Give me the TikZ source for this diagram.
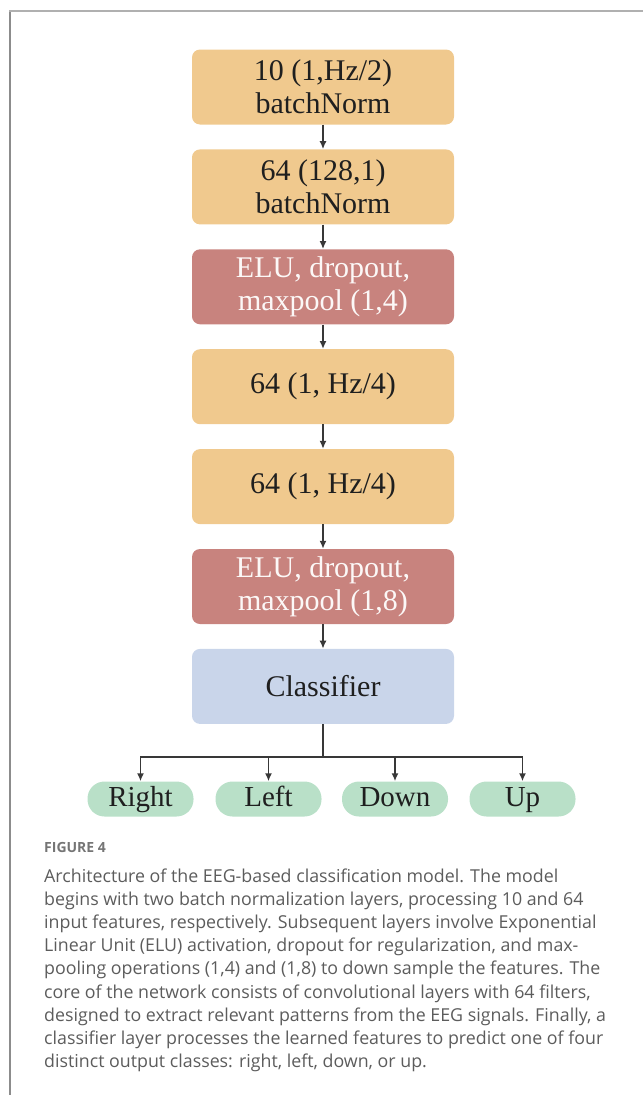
\documentclass[tikz,border=0pt]{standalone}
\usepackage{fontspec}
\setmainfont{Liberation Serif}
\newfontfamily\capfont{Open Sans}
\usetikzlibrary{positioning, arrows.meta}

\definecolor{layerorange}{HTML}{F0C98E}
\definecolor{layerred}{HTML}{C8837E}
\definecolor{layerblue}{HTML}{C9D5EA}
\definecolor{classgreen}{HTML}{B9E0C8}
\definecolor{captext}{HTML}{5C5C5C}
\definecolor{frametop}{HTML}{B0B0B0}
\definecolor{frameleft}{HTML}{8C8C8C}

\tikzset{
    layer/.style={rounded corners=8pt, minimum width=262pt, minimum height=75pt, inner sep=0pt, align=center, text=black!88, font=\fontsize{30}{33}\selectfont},
    normlayer/.style={layer, fill=layerorange},
    poollayer/.style={layer, fill=layerred, text=white!94!layerred},
    clflayer/.style={layer, fill=layerblue},
    outclass/.style={rounded corners=17pt, minimum width=106pt, minimum height=35pt, inner sep=0pt, text height=20pt, text depth=6pt, fill=classgreen, text=black!88, font=\fontsize{29}{30}\selectfont},
    flow/.style={draw=black!78, line width=1.7pt, -{Latex[length=8pt, width=7pt]}},
    capline/.style={anchor=base west, inner sep=0pt, text=captext, font=\capfont\fontsize{17.8}{20}\selectfont},
}

\begin{document}
\begin{tikzpicture}[x=1pt, y=-1pt]
        \useasboundingbox (0,0) rectangle (643,1095);
        \draw[frameleft, line width=1.5pt] (10,1095) -- (10,11);
        \draw[frametop, line width=1.5pt] (9.25,11) -- (643,11);

        \node[normlayer] (bn1) at (323,87) {10 (1,Hz/2)\\batchNorm};
        \node[normlayer, below=24.5pt of bn1] (bn2) {64 (128,1)\\batchNorm};
        \node[poollayer, below=24.5pt of bn2] (pool1) {ELU, dropout,\\maxpool (1,4)};
        \node[normlayer, below=24.5pt of pool1] (conv1) {64 (1, Hz/4)};
        \node[normlayer, below=24.5pt of conv1] (conv2) {64 (1, Hz/4)};
        \node[poollayer, below=24.5pt of conv2] (pool2) {ELU, dropout,\\maxpool (1,8)};
        \node[clflayer, below=24.5pt of pool2] (clf) {Classifier};

        \node[outclass] (right) at (140.5,799) {Right};
        \node[outclass] (left) at (268.5,799) {Left};
        \node[outclass] (down) at (395,799) {Down};
        \node[outclass] (up) at (522.5,799) {Up};

        \draw[flow] (bn1) -- (bn2);
        \draw[flow] (bn2) -- (pool1);
        \draw[flow] (pool1) -- (conv1);
        \draw[flow] (conv1) -- (conv2);
        \draw[flow] (conv2) -- (pool2);
        \draw[flow] (pool2) -- (clf);

        \coordinate (split) at (323,757);
        \draw[draw=black!78, line width=1.7pt] (clf.south) -- (split);
        \draw[flow] (split) -| (right.north);
        \draw[flow] (split) -| (left.north);
        \draw[flow] (split) -| (down.north);
        \draw[flow] (split) -| (up.north);

        \node[anchor=base west, inner sep=0pt, text=captext!85, font=\capfont\bfseries\fontsize{14}{16}\selectfont] (figlabel) at (44,852) {FIGURE 4};
        \foreach \ln [count=\i] in {
            {Architecture of the EEG-based classification model. The model},
            {begins with two batch normalization layers, processing 10 and 64},
            {input features, respectively. Subsequent layers involve Exponential},
            {Linear Unit (ELU) activation, dropout for regularization, and max-},
            {pooling operations (1,4) and (1,8) to down sample the features. The},
            {core of the network consists of convolutional layers with 64 filters,},
            {designed to extract relevant patterns from the EEG signals. Finally, a},
            {classifier layer processes the learned features to predict one of four},
            {distinct output classes: right, left, down, or up.}}
            \node[capline] (cap\i) at (44,{882+23.2*(\i-1)}) {\ln};
    \end{tikzpicture}
\end{document}
